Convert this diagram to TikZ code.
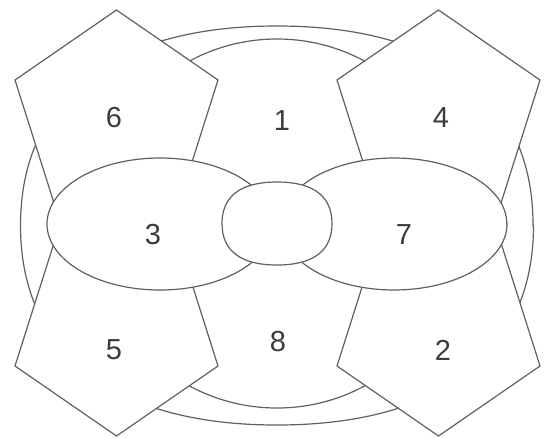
\documentclass[tikz,border=0pt]{standalone}
\usepackage{fontspec}
\setmainfont{Liberation Sans}
\definecolor{linegray}{HTML}{606060}
\definecolor{textgray}{HTML}{3C3C3C}
\newcommand\superell[5]{%
  \draw[shapeline,shift={(#1,#2)},xscale=#3,yscale=#4]
    (1,0) .. controls (1,#5) and (#5,1) .. (0,1)
          .. controls (-#5,1) and (-1,#5) .. (-1,0)
          .. controls (-1,-#5) and (-#5,-1) .. (0,-1)
          .. controls (#5,-1) and (1,-#5) .. cycle;}
\begin{document}
\begin{tikzpicture}[x=1pt,y=-1pt,
  shapeline/.style={draw=linegray,line width=1.2pt,fill=white},
  numlabel/.style={text=textgray,font=\fontsize{29}{29}\selectfont,inner sep=0pt}]
\useasboundingbox (0,0) rectangle (545,437);
% outer rounded ring and inner circle
\superell{277}{225.5}{256.5}{199.5}{0.64}
\superell{277}{223.5}{184.5}{184.5}{0.5523}
% pentagons
\draw[shapeline] (116.5,10) -- (218,80) -- (179,203) -- (54,203) -- (15,80) -- cycle;
\draw[shapeline] (438.5,10) -- (540,80) -- (501,203) -- (376,203) -- (337,80) -- cycle;
\draw[shapeline] (116.5,436) -- (218,366) -- (179,243) -- (54,243) -- (15,366) -- cycle;
\draw[shapeline] (438.5,436) -- (540,366) -- (501,243) -- (376,243) -- (337,366) -- cycle;
% side ellipses
\superell{160}{224}{113}{66}{0.5523}
\superell{394}{224}{113}{66}{0.5523}
% centre shape
\superell{277}{223.5}{55}{41.5}{0.66}
% labels
\node[numlabel] (n1) at (282,121) {1};
\node[numlabel] (n6) at (114,118) {6};
\node[numlabel] (n4) at (441,118) {4};
\node[numlabel] (n3) at (153,235) {3};
\node[numlabel] (n7) at (404,235) {7};
\node[numlabel] (n5) at (114,350) {5};
\node[numlabel] (n8) at (278,342) {8};
\node[numlabel] (n2) at (443,350) {2};
\end{tikzpicture}
\end{document}
